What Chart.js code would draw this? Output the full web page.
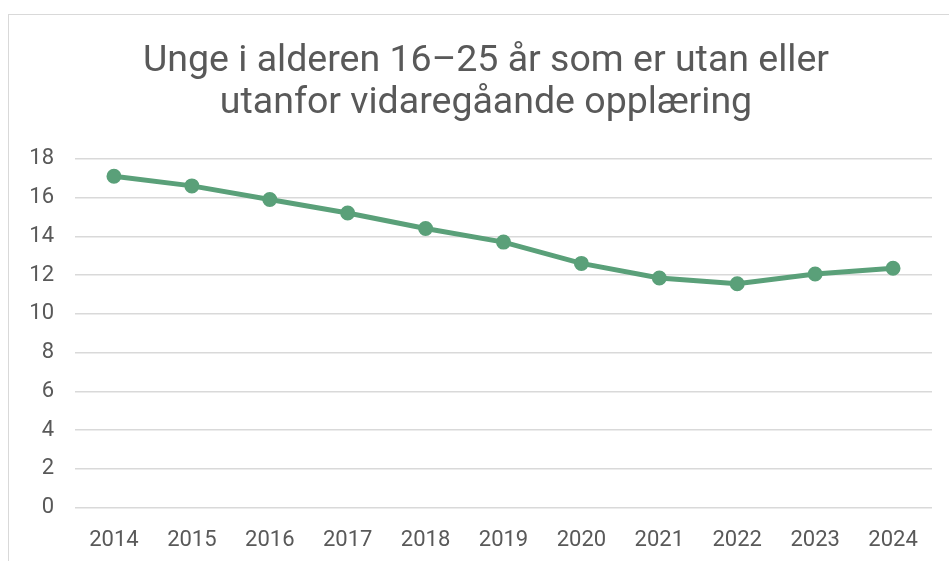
<!DOCTYPE html>
<html>
<head>
<meta charset="utf-8">
<script src="https://cdn.jsdelivr.net/npm/chart.js@4"></script>
<style>
  html, body { margin: 0; padding: 0; background: #fff; overflow: hidden; width: 949px; height: 561px; }
  #frame { position: absolute; left: 8px; top: 14px; width: 954px; height: 600px; border: 1px solid #d9d9d9; }
  #holder { position: relative; width: 954px; height: 560px; }
</style>
</head>
<body>
<div id="frame"><div id="holder"><canvas id="lineChart"></canvas></div></div>
<script>
const years = ['2014', '2015', '2016', '2017', '2018', '2019', '2020', '2021', '2022', '2023', '2024']
const shareOutside = [17.1, 16.6, 15.9, 15.2, 14.4, 13.7, 12.6, 11.85, 11.55, 12.05, 12.35]
const titleLines = ['Unge i alderen 16–25 år som er utan eller', 'utanfor vidaregåande opplæring']

const textColor = '#595959'
const lineColor = '#5aa079'

Chart.defaults.font.family = 'Roboto, "Noto Sans", sans-serif'
Chart.defaults.color = textColor

new Chart(document.getElementById('lineChart').getContext('2d'), {
  type: 'line',
  data: {
    labels: years,
    datasets: [
      {
        data: shareOutside,
        borderColor: lineColor,
        backgroundColor: lineColor,
        borderWidth: 5,
        pointRadius: 6.5,
        pointBorderWidth: 2,
        pointHoverRadius: 6.5,
        tension: 0
      }
    ]
  },
  options: {
    responsive: true,
    maintainAspectRatio: false,
    animation: false,
    layout: { padding: { left: 0, right: 0, top: 0, bottom: 1 } },
    plugins: {
      legend: { display: false },
      tooltip: { enabled: false },
      title: {
        display: true,
        text: titleLines,
        color: textColor,
        font: { size: 37.5, weight: 'normal', lineHeight: 1.13 },
        padding: { top: 25, bottom: 34 }
      }
    },
    scales: {
      x: {
        offset: true,
        grid: { display: false, drawTicks: false },
        border: { display: false },
        ticks: { padding: 20, font: { size: 22 }, color: textColor, maxRotation: 0 }
      },
      y: {
        min: 0,
        max: 18,
        ticks: { stepSize: 2, padding: 21, font: { size: 22 }, color: textColor },
        grid: { color: '#d9d9d9', lineWidth: 1.5, drawTicks: false },
        border: { display: false },
        afterFit: (scale) => { scale.width = 66 }
      },
      // empty right axis that only keeps the right margin
      yRight: {
        position: 'right',
        display: true,
        grid: { display: false, drawTicks: false },
        border: { display: false },
        ticks: { display: false },
        afterFit: (scale) => { scale.width = 31 }
      }
    }
  }
})
</script>
</body>
</html>
